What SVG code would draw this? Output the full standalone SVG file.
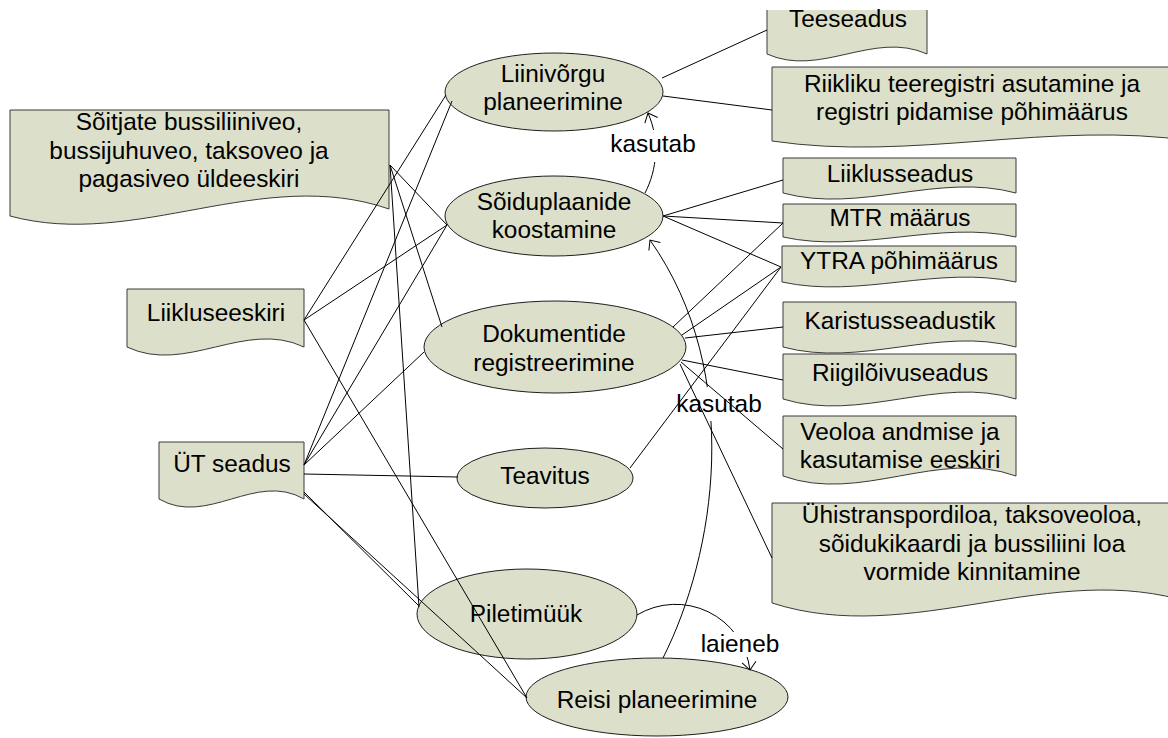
<svg xmlns="http://www.w3.org/2000/svg" width="1168" height="738" viewBox="0 0 1168 738">
  <style>
    .doc { fill: #dcdfca; stroke: #3a3a3a; stroke-width: 1; }
    .uc { fill: #dcdfca; stroke: #1e1e1e; stroke-width: 1; }
    text { font-family: "Liberation Sans", Arial, sans-serif; font-size: 24.4px; fill: #000; text-anchor: middle; }
    .ln { stroke: #000; stroke-width: 1; fill: none; }
    .lblbg { fill: #fff; }
  </style>
  <defs>
    <marker id="open" viewBox="0 0 10 16" refX="9" refY="8" markerWidth="10" markerHeight="16" markerUnits="userSpaceOnUse" orient="auto">
      <path d="M1,1 L9,8 L1,15" fill="none" stroke="#000" stroke-width="1"/>
    </marker>
  </defs>
  <rect width="1168" height="738" fill="#fff"/>

  <!-- legal documents -->
  <g id="teeseadus">
    <!-- top edge runs under the page header, so the outline is left open there -->
    <path class="doc" d="M927,10 V54 C873.7,30 820.3,78 767,54 V10"/>
    <text x="848" y="27">Teeseadus</text>
  </g>
  <g id="riikliku-teeregister">
    <path class="doc" d="M772,67 H1192 V141 C1052,120 912,162 772,141 Z"/>
    <text x="972" y="92">Riikliku teeregistri asutamine ja</text>
    <text x="972" y="120">registri pidamise põhimäärus</text>
  </g>
  <g id="liiklusseadus">
    <path class="doc" d="M783,158 H1016 V193 C938.3,172 860.7,214 783,193 Z"/>
    <text x="900" y="182">Liiklusseadus</text>
  </g>
  <g id="mtr-maarus">
    <path class="doc" d="M783,204 H1016 V237 C938.3,220 860.7,254 783,237 Z"/>
    <text x="900" y="226">MTR määrus</text>
  </g>
  <g id="ytra-pohimaarus">
    <path class="doc" d="M782,246 H1016 V282 C938,265 860,299 782,282 Z"/>
    <text x="899" y="269">YTRA põhimäärus</text>
  </g>
  <g id="karistusseadustik">
    <path class="doc" d="M783,302 H1016 V347 C938.3,326 860.7,368 783,347 Z"/>
    <text x="900" y="329">Karistusseadustik</text>
  </g>
  <g id="riigiloivuseadus">
    <path class="doc" d="M783,354 H1016 V399 C938.3,375 860.7,423 783,399 Z"/>
    <text x="900" y="381">Riigilõivuseadus</text>
  </g>
  <g id="veoloa-eeskiri">
    <path class="doc" d="M783,416 H1016 V476 C938.3,448 860.7,504 783,476 Z"/>
    <text x="900" y="440">Veoloa andmise ja</text>
    <text x="900" y="468">kasutamise eeskiri</text>
  </g>
  <g id="loa-vormid">
    <path class="doc" d="M772,503 H1192 V603 C1052,558 912,648 772,603 Z"/>
    <text x="972" y="523">Ühistranspordiloa, taksoveoloa,</text>
    <text x="972" y="552">sõidukikaardi ja bussiliini loa</text>
    <text x="972" y="580">vormide kinnitamine</text>
  </g>
  <g id="uldeeskiri">
    <path class="doc" d="M10,110 H389 V209 C262,165 136,250 10,216 Z"/>
    <text x="189" y="130">Sõitjate bussiliiniveo,</text>
    <text x="189" y="159">bussijuhuveo, taksoveo ja</text>
    <text x="189" y="187">pagasiveo üldeeskiri</text>
  </g>
  <g id="liikluseeskiri">
    <path class="doc" d="M127,289 H304 V347 C245,319 186,375 127,347 Z"/>
    <text x="216" y="321">Liikluseeskiri</text>
  </g>
  <g id="yt-seadus">
    <path class="doc" d="M159,442 H304 V499 C255.7,471 207.3,527 159,499 Z"/>
    <text x="232" y="472">ÜT seadus</text>
  </g>

  <!-- use cases -->
  <g id="liinivorgu-planeerimine">
    <ellipse class="uc" cx="554" cy="92" rx="109" ry="39"/>
    <text x="553" y="82">Liinivõrgu</text>
    <text x="553" y="110">planeerimine</text>
  </g>
  <g id="soiduplaanide-koostamine">
    <ellipse class="uc" cx="554" cy="216" rx="109" ry="40"/>
    <text x="554" y="210">Sõiduplaanide</text>
    <text x="554" y="238">koostamine</text>
  </g>
  <g id="dokumentide-registreerimine">
    <ellipse class="uc" cx="555" cy="347" rx="131" ry="46"/>
    <text x="554" y="342">Dokumentide</text>
    <text x="554" y="371">registreerimine</text>
  </g>
  <g id="teavitus">
    <ellipse class="uc" cx="545" cy="478" rx="88" ry="30"/>
    <text x="545" y="484">Teavitus</text>
  </g>
  <g id="piletimuuk">
    <ellipse class="uc" cx="527" cy="614" rx="110" ry="45"/>
    <text x="526" y="622">Piletimüük</text>
  </g>
  <g id="reisi-planeerimine">
    <ellipse class="uc" cx="657" cy="697" rx="131" ry="39"/>
    <text x="657" y="708">Reisi planeerimine</text>
  </g>

  <!-- connectors -->
  <g id="connectors">
    <!-- include / extend relations -->
    <path class="ln" d="M645,193 C657,170 660,140 648,113" marker-end="url(#open)"/>
    <path class="ln" d="M663,658 C715,555 745,375 650,240" marker-end="url(#open)"/>
    <path class="ln" d="M637,615 A75,75 0 0 1 750,670" marker-end="url(#open)"/>
    <rect class="lblbg" x="610" y="130" width="86" height="32"/>
    <text x="653" y="152">kasutab</text>
    <rect class="lblbg" x="676" y="387" width="86" height="34"/>
    <text x="719" y="412">kasutab</text>
    <rect class="lblbg" x="700" y="632" width="80" height="25"/>
    <text x="740" y="652">laieneb</text>

    <!-- sources on the left -->
    <line class="ln" x1="304" y1="320" x2="446" y2="95"/>
    <line class="ln" x1="304" y1="320" x2="447" y2="225"/>
    <line class="ln" x1="304" y1="320" x2="527" y2="698"/>
    <line class="ln" x1="390" y1="165" x2="447" y2="225"/>
    <line class="ln" x1="390" y1="165" x2="442" y2="327"/>
    <line class="ln" x1="390" y1="165" x2="419" y2="607"/>
    <line class="ln" x1="304" y1="465" x2="452" y2="101"/>
    <line class="ln" x1="304" y1="465" x2="447" y2="225"/>
    <line class="ln" x1="304" y1="465" x2="424" y2="352"/>
    <line class="ln" x1="304" y1="474" x2="458" y2="477"/>
    <line class="ln" x1="304" y1="492" x2="419" y2="606"/>
    <line class="ln" x1="304" y1="494" x2="527" y2="698"/>

    <!-- sources on the right -->
    <line class="ln" x1="662" y1="78" x2="767" y2="30"/>
    <line class="ln" x1="663" y1="96" x2="772" y2="110"/>
    <line class="ln" x1="663" y1="216" x2="783" y2="180"/>
    <line class="ln" x1="663" y1="216" x2="783" y2="223"/>
    <line class="ln" x1="663" y1="216" x2="781" y2="267"/>
    <line class="ln" x1="673" y1="327" x2="783" y2="223"/>
    <line class="ln" x1="682" y1="335" x2="781" y2="267"/>
    <line class="ln" x1="685" y1="338" x2="783" y2="327"/>
    <line class="ln" x1="682" y1="360" x2="783" y2="380"/>
    <line class="ln" x1="681" y1="362" x2="783" y2="449"/>
    <line class="ln" x1="680" y1="364" x2="772" y2="558"/>
    <line class="ln" x1="630" y1="468" x2="781" y2="267"/>
  </g>
</svg>
